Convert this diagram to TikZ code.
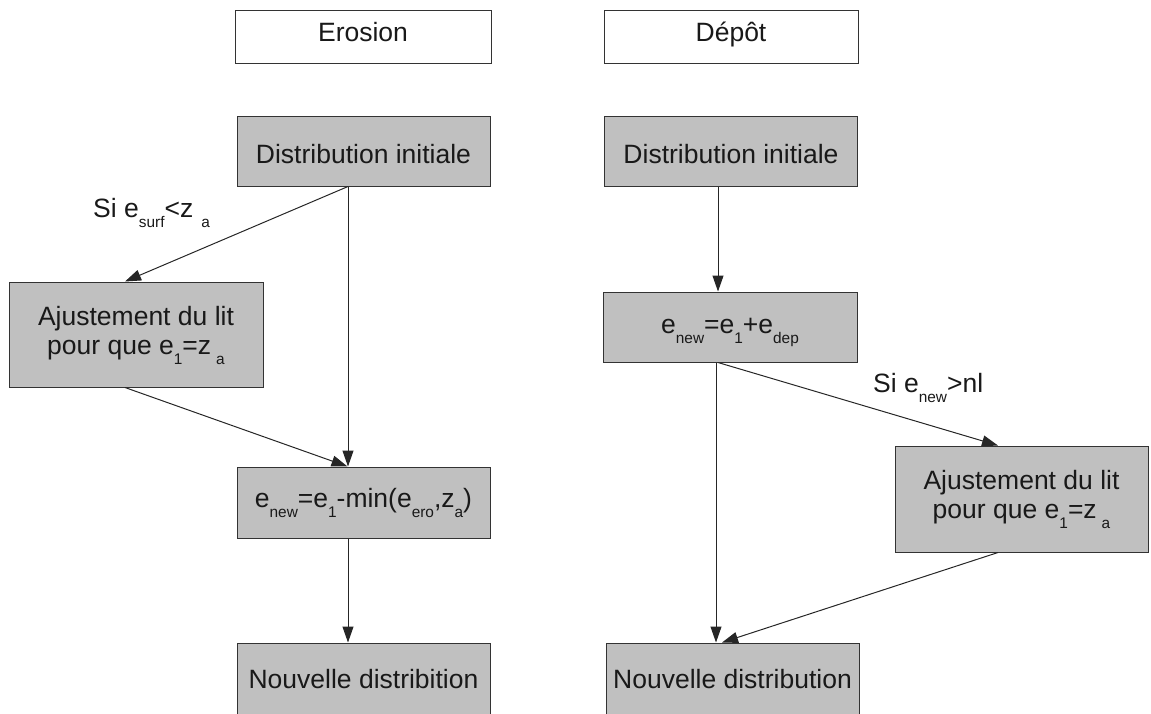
\documentclass[tikz,border=0pt]{standalone}
\usepackage{fontspec}
\setmainfont{Liberation Sans}
\usetikzlibrary{arrows.meta}
\definecolor{boxgray}{RGB}{192,192,192}
\newcommand\sbs[1]{\raisebox{-10pt}{\fontsize{15.4}{16}\selectfont #1}}
\newcommand\bt[2]{\raisebox{#1}{#2}}
\newcommand\twol[2]{\begin{tabular}[t]{@{}c@{}}#1\\#2\end{tabular}}
\tikzset{
  box/.style={draw=black!80, line width=1pt, fill=boxgray, minimum width=253pt,
    minimum height=70pt, inner sep=0pt, text height=0pt, text depth=0pt,
    font=\fontsize{26.5}{29}\selectfont, text=black!90},
  headbox/.style={box, fill=white, minimum height=53pt},
  conn/.style={draw=black!85, line width=1pt, -{Triangle[length=16pt,width=11pt]}},
  lbl/.style={inner sep=0pt, anchor=base west, font=\fontsize{26.5}{29}\selectfont, text=black!90}
}
\begin{document}
\begin{tikzpicture}[x=1pt,y=-1pt]
\useasboundingbox (0,0) rectangle (1151,713);
\clip (0,0) rectangle (1151,713);
% headers
\node[headbox, minimum width=256pt] (ero) at (363,36.5) {\bt{-4.5pt}{Erosion}};
\node[headbox, minimum width=254pt] (dep) at (731,36.5) {\bt{-4.5pt}{Dépôt}};
% left column
\node[box] (diL) at (363.5,151) {\bt{-12pt}{Distribution initiale}};
\node[box, minimum width=254pt, minimum height=105pt] (ajL) at (136,334.5)
  {\bt{9.5pt}{\twol{Ajustement du lit}{pour que e\sbs{1}=z\hspace{5pt}\sbs{a}}}};
\node[box, minimum height=71pt] (emin) at (363.5,502.5)
  {\bt{-4.5pt}{e\sbs{new}=e\sbs{1}-min(e\sbs{ero},z\sbs{a})}};
\node[box, minimum height=72pt] (nvL) at (363.5,679) {\bt{-9pt}{Nouvelle distribition}};
% right column
\node[box] (diR) at (731,151) {\bt{-12pt}{Distribution initiale}};
\node[box, minimum width=254pt] (edep) at (730,327) {\bt{-6pt}{e\sbs{new}=e\sbs{1}+e\sbs{dep}}};
\node[box, minimum height=106pt] (ajR) at (1021.5,499)
  {\bt{9.5pt}{\twol{Ajustement du lit}{pour que e\sbs{1}=z\hspace{5pt}\sbs{a}}}};
\node[box, minimum height=72pt] (nvR) at (732.5,679) {\bt{-9pt}{Nouvelle distribution}};
% labels
\node[lbl] (c1) at (93,217) {Si e\sbs{surf}<z\hspace{8pt}\sbs{a}};
\node[lbl] (c2) at (873,392) {Si e\sbs{new}>nl};
% connectors
\draw[conn] ([xshift=-15.5pt]diL.south) -- ([xshift=-11pt]ajL.north);
\draw[conn] ([xshift=-15.5pt]diL.south) -- ([xshift=-15.5pt]emin.north);
\draw[conn] ([xshift=-11pt]ajL.south) -- ([xshift=-16pt]emin.north);
\draw[conn] ([xshift=-15.5pt]emin.south) -- ([xshift=-15.5pt]nvL.north);
\draw[conn] ([xshift=-13pt]diR.south) -- ([xshift=-12pt]edep.north);
\draw[conn] ([xshift=-14pt]edep.south) -- ([xshift=-16.5pt]nvR.north);
\draw[conn] ([xshift=-12pt]edep.south) -- ([xshift=-23.5pt]ajR.north);
\draw[conn] ([xshift=-23.5pt]ajR.south) -- ([xshift=-10.5pt]nvR.north);
\end{tikzpicture}
\end{document}
